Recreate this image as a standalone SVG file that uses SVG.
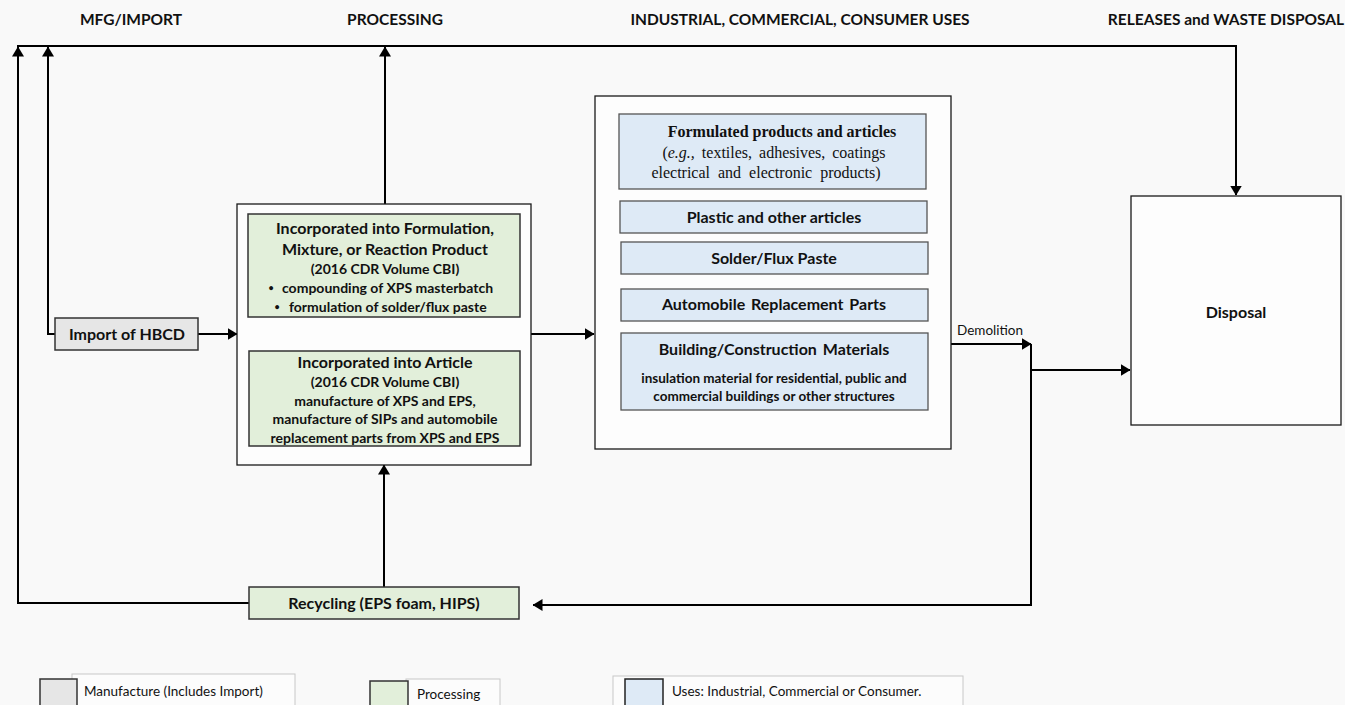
<svg xmlns="http://www.w3.org/2000/svg" width="1345" height="705" viewBox="0 0 1345 705">
<defs>
<marker id="ah" viewBox="0 0 10 12" refX="9.5" refY="6" markerWidth="10" markerHeight="12" markerUnits="userSpaceOnUse" orient="auto">
<path d="M0,0 L10,6 L0,12 z" fill="#000"/>
</marker>
<style>
.bg{fill:#f9f9f9}
.c{fill:none;stroke:#000;stroke-width:2}
.frame{fill:#fdfdfd;stroke:#1a1a1a;stroke-width:1.3}
.grn{fill:#e2efda;stroke:#333;stroke-width:1.5}
.blu{fill:#deeaf6;stroke:#555;stroke-width:1.3}
.gry{fill:#e6e6e6;stroke:#333;stroke-width:1.5}
.lg{fill:#fcfcfc;stroke:#c8c8c8;stroke-width:1}
text{font-family:Lato,"Open Sans","Liberation Sans",sans-serif;fill:#111;text-anchor:middle}
.h{font-weight:bold;font-size:15.5px}
.b14{font-weight:bold;font-size:16px}
.b12{font-weight:bold;font-size:14px}
.b11{font-weight:bold;font-size:13.5px}
.r12{font-size:13.5px}
.r13{font-size:13.5px;text-anchor:start}
.tm{font-family:"Liberation Serif","Times New Roman",serif;font-size:16px}
.bul{font-weight:bold;font-size:9px}
</style>
</defs>
<rect class="bg" x="0" y="0" width="1345" height="705"/>

<g id="headers">
<text class="h" x="131" y="25">MFG/IMPORT</text>
<text class="h" x="395" y="25">PROCESSING</text>
<text class="h" x="800" y="25">INDUSTRIAL, COMMERCIAL, CONSUMER USES</text>
<text class="h" x="1226" y="25">RELEASES and WASTE DISPOSAL</text>
</g>

<g id="connectors">
<path class="c" d="M17,46 H1236 V195" marker-end="url(#ah)"/>
<path class="c" d="M249,603 H18 V47" marker-end="url(#ah)"/>
<path class="c" d="M55,334 H48 V47" marker-end="url(#ah)"/>
<path class="c" d="M385,204 V47" marker-end="url(#ah)"/>
<path class="c" d="M198,334 H237" marker-end="url(#ah)"/>
<path class="c" d="M385,317 V350" marker-end="url(#ah)"/>
<path class="c" d="M384,587 V465" marker-end="url(#ah)"/>
<path class="c" d="M531,334 H594" marker-end="url(#ah)"/>
<path class="c" d="M928,344 H1031" marker-end="url(#ah)"/>
<path class="c" d="M928,344 H942 V444 H774 V419" marker-end="url(#ah)"/>
<path class="c" d="M1031,344 V605 H533" marker-end="url(#ah)"/>
<path class="c" d="M1031,370 H1130" marker-end="url(#ah)"/>
<text class="r12" x="990" y="335">Demolition</text>
<text class="r12" x="853" y="439">Reuse</text>
</g>

<g id="import">
<rect class="gry" x="55" y="318" width="143" height="32"/>
<text class="b14" x="127" y="340">Import of HBCD</text>
</g>

<g id="processing">
<rect class="frame" x="237" y="204" width="294" height="261"/>
</g>

<g id="formulation">
<rect class="grn" x="248" y="214" width="272" height="103"/>
<text class="b14" x="385" y="234">Incorporated into Formulation,</text>
<text class="b14" x="385" y="255">Mixture, or Reaction Product</text>
<text class="b12" x="385" y="274">(2016 CDR Volume CBI)</text>
<text class="bul" x="271" y="291">•</text>
<text class="b12" x="282" y="293" style="text-anchor:start">compounding of XPS masterbatch</text>
<text class="bul" x="277" y="310">•</text>
<text class="b12" x="289" y="312" style="text-anchor:start">formulation of solder/flux paste</text>
</g>

<g id="article">
<rect class="grn" x="249" y="351" width="271" height="95"/>
<text class="b14" x="385" y="368">Incorporated into Article</text>
<text class="b12" x="385" y="387">(2016 CDR Volume CBI)</text>
<text class="b12" x="385" y="406">manufacture of XPS and EPS,</text>
<text class="b12" x="385" y="424">manufacture of SIPs and automobile</text>
<text class="b12" x="385" y="443">replacement parts from XPS and EPS</text>
</g>

<g id="recycling">
<rect class="grn" x="249" y="587" width="270" height="32"/>
<text class="b14" x="384" y="609">Recycling (EPS foam, HIPS)</text>
</g>

<g id="uses">
<rect class="frame" x="595" y="96" width="356" height="353"/>
</g>

<g id="formulated">
<rect class="blu" x="619" y="114" width="307" height="75"/>
<text class="tm" x="782" y="137" font-weight="bold">Formulated products and articles</text>
<text class="tm" x="774" y="158" word-spacing="3">(<tspan font-style="italic">e.g.,</tspan> textiles, adhesives, coatings</text>
<text class="tm" x="766" y="178" word-spacing="4">electrical and electronic products)</text>
</g>

<g id="plastic">
<rect class="blu" x="620" y="201" width="307" height="32"/>
<text class="b14" x="774" y="223">Plastic and other articles</text>
</g>

<g id="solder">
<rect class="blu" x="621" y="242" width="307" height="32"/>
<text class="b14" x="774" y="264">Solder/Flux Paste</text>
</g>

<g id="automobile">
<rect class="blu" x="621" y="289" width="307" height="32"/>
<text class="b14" x="774" y="310" word-spacing="2">Automobile Replacement Parts</text>
</g>

<g id="building">
<rect class="blu" x="621" y="333" width="307" height="77"/>
<text class="b14" x="774" y="355" word-spacing="2">Building/Construction Materials</text>
<text class="b11" x="774" y="383">insulation  material for residential, public and</text>
<text class="b11" x="774" y="401">commercial buildings  or other structures</text>
</g>

<g id="disposal">
<rect class="frame" x="1131" y="196" width="210" height="229"/>
<text class="b14" x="1236" y="318">Disposal</text>
</g>

<g id="legend">
<rect class="lg" x="72" y="674" width="223" height="40"/>
<rect class="gry" x="40" y="679" width="37" height="35"/>
<text class="r13" x="84" y="696">Manufacture (Includes Import)</text>
<rect class="lg" x="406" y="679" width="94" height="40"/>
<rect class="grn" x="370" y="681" width="38" height="35"/>
<text class="r13" x="417" y="699">Processing</text>
<rect class="lg" x="613" y="676" width="350" height="40"/>
<rect class="blu" x="625" y="679" width="38" height="35" style="stroke:#222;stroke-width:1.5"/>
<text class="r13" x="672" y="696">Uses: Industrial, Commercial or Consumer.</text>
</g>
</svg>
